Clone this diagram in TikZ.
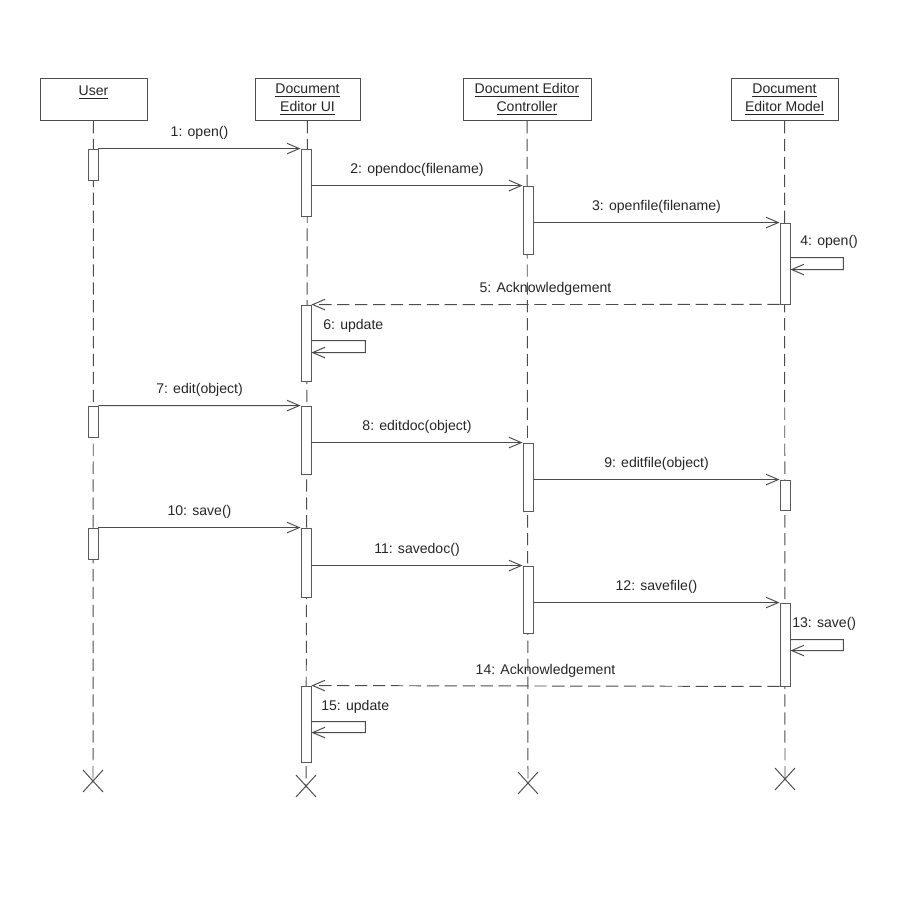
\documentclass[tikz,border=0pt]{standalone}
\usepackage{fontspec}
\setmainfont{Liberation Sans}
\usepackage{tikz}
\usetikzlibrary{positioning}
\usetikzlibrary{arrows.meta}
\usetikzlibrary{fit}

\begin{document}
\begin{tikzpicture}[x=0.02cm, y=-0.02cm,
  every node/.style={font=\fontsize{8}{10.2}\selectfont, text=black!85},
  head/.style={draw=black!70, line width=0.55pt, fill=white, minimum height=0.84cm, align=center, inner sep=0pt},
  life/.style={draw=black!70, line width=0.55pt, dash pattern=on 7pt off 3.2pt},
  act/.style={draw=black!65, line width=0.5pt, fill=white, inner sep=0pt, minimum width=0.2cm},
  msg/.style={draw=black!70, line width=0.55pt, -{Straight Barb[length=7pt, width=6pt]}},
  ret/.style={msg, dash pattern=on 7pt off 3.2pt},
  lab/.style={above=1.5pt}
]

\useasboundingbox (0,0) rectangle (900,900);

% heads
\node[head, minimum width=2.14cm, anchor=north] (user) at (93.5,78) {\underline{User}\\\mbox{}};
\node[head, minimum width=2.10cm, anchor=north] (ui) at (307.5,78) {\underline{Document}\\\underline{Editor UI}};
\node[head, minimum width=2.56cm, anchor=north] (ctrl) at (527,78) {\underline{Document Editor}\\\underline{Controller}};
\node[head, minimum width=2.14cm, anchor=north] (model) at (784.5,78) {\underline{Document}\\\underline{Editor Model}};

% lifeline ends
\coordinate (xuser) at (93,781);
\coordinate (xui) at (306,786);
\coordinate (xctrl) at (528,783);
\coordinate (xmodel) at (785,779);

\draw[life] (user) -- (xuser);
\draw[life] (ui) -- (xui);
\draw[life] (ctrl) -- (xctrl);
\draw[life] (model) -- (xmodel);

\foreach \p in {xuser,xui,xctrl,xmodel}
\draw[black!70, line width=0.55pt] (\p) +(-10,-11) -- +(10,11) +(-10,11) -- +(10,-11);

% activations
\node[act, fit={(93,149) (93,180)}] (u1) {};
\node[act, fit={(93,406) (93,437)}] (u2) {};
\node[act, fit={(93,528) (93,559)}] (u3) {};

\node[act, fit={(306,149) (306,216)}] (e1) {};
\node[act, fit={(306,305) (306,381)}] (e2) {};
\node[act, fit={(306,406) (306,474)}] (e3) {};
\node[act, fit={(306,528) (306,597)}] (e4) {};
\node[act, fit={(306,686) (306,762)}] (e5) {};

\node[act, fit={(528,186) (528,254)}] (c1) {};
\node[act, fit={(528,443) (528,511)}] (c2) {};
\node[act, fit={(528,566) (528,633)}] (c3) {};

\node[act, fit={(785,223) (785,304)}] (m1) {};
\node[act, fit={(785,480) (785,510)}] (m2) {};
\node[act, fit={(785,603) (785,686)}] (m3) {};

% messages
\draw[msg] (u1.north east) -- node[lab] {1: open()} (e1.north west);
\draw[msg] (e1.east |- c1.north) -- node[lab] {2: opendoc(filename)} (c1.north west);
\draw[msg] (c1.east |- m1.north) -- node[lab] {3: openfile(filename)} (m1.north west);
\draw[msg] ([yshift=-0.7cm]m1.north east) -- ++(53,0) -- ++(0,12) -- ([yshift=-0.94cm]m1.north east);
\draw[ret] (m1.south west) -- node[lab] {5: Acknowledgement} (e2.north east);
\draw[msg] ([yshift=-0.72cm]e2.north east) -- ++(54,0) -- ++(0,12) -- ([yshift=-0.96cm]e2.north east);

\draw[msg] (u2.north east) -- node[lab] {7: edit(object)} (e3.north west);
\draw[msg] (e3.east |- c2.north) -- node[lab] {8: editdoc(object)} (c2.north west);
\draw[msg] (c2.east |- m2.north) -- node[lab] {9: editfile(object)} (m2.north west);

\draw[msg] (u3.north east) -- node[lab] {10: save()} (e4.north west);
\draw[msg] (e4.east |- c3.north) -- node[lab] {11: savedoc()} (c3.north west);
\draw[msg] (c3.east |- m3.north) -- node[lab] {12: savefile()} (m3.north west);
\draw[msg] ([yshift=-0.74cm]m3.north east) -- ++(53,0) -- ++(0,11) -- ([yshift=-0.96cm]m3.north east);
\draw[ret] (m3.south west) -- node[lab] {14: Acknowledgement} (e5.north east);
\draw[msg] ([yshift=-0.72cm]e5.north east) -- ++(54,0) -- ++(0,11) -- ([yshift=-0.94cm]e5.north east);

% self message labels
\node[anchor=west, inner sep=0pt] (l4) at (800,242) {4: open()};
\node[anchor=west, inner sep=0pt] (l6) at (323,326) {6: update};
\node[anchor=west, inner sep=0pt] (l13) at (792,624) {13: save()};
\node[anchor=west, inner sep=0pt] (l15) at (321,707) {15: update};

\end{tikzpicture}
\end{document}
